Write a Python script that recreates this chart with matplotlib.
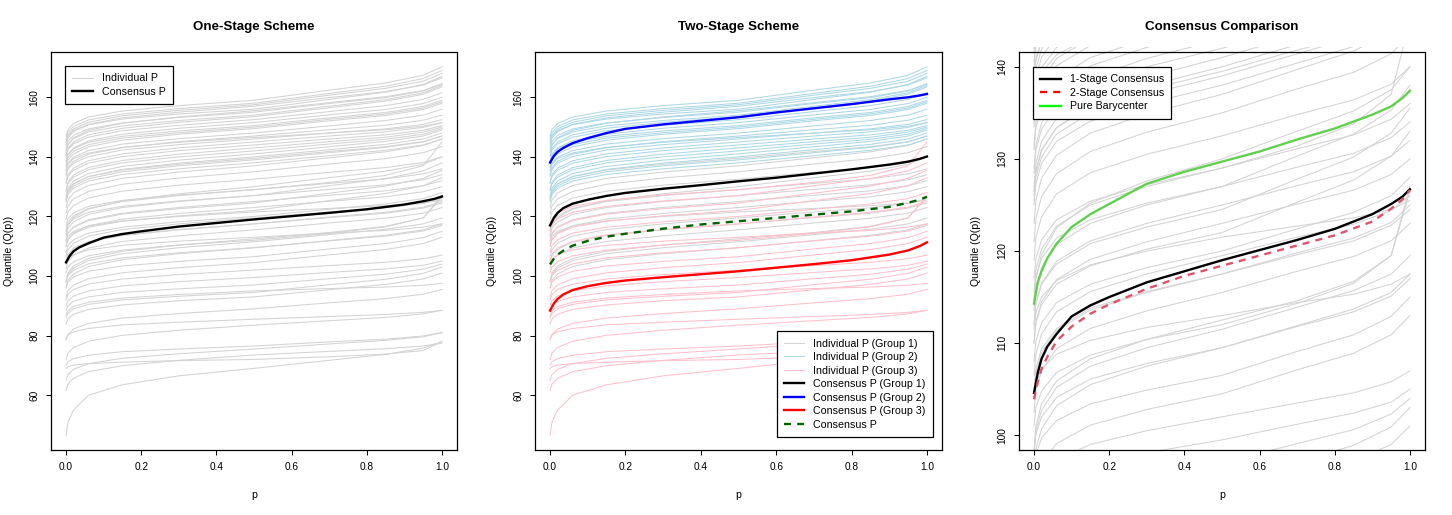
import numpy as np
import matplotlib
matplotlib.use('Agg')
import matplotlib.pyplot as plt
from matplotlib.lines import Line2D
from matplotlib.patches import Rectangle

plt.rcParams['font.family'] = ['Liberation Sans', 'DejaVu Sans']

#---------------------------------datos---------------------------------
# puntos p donde se leyeron las curvas individuales
p_ind = [0.0, 0.005, 0.02, 0.06, 0.15, 0.3, 0.5, 0.7, 0.85, 0.95, 1.0]

# grupo 1 (gris)
grupo1 = [
    [123.0, 125.5, 127.9, 130.4, 132.8, 134.9, 137.0, 139.7, 141.7, 143.8, 146.0],
    [121.0, 123.5, 125.9, 128.4, 130.8, 132.9, 135.0, 137.6, 139.4, 141.4, 143.5],
    [119.0, 121.5, 123.7, 126.2, 128.5, 130.5, 132.5, 134.8, 136.4, 138.1, 140.0],
    [114.0, 117.0, 119.6, 122.5, 125.2, 127.6, 130.0, 133.0, 135.2, 137.5, 140.0],
    [115.5, 118.0, 120.2, 122.7, 125.0, 127.0, 129.0, 131.1, 132.6, 134.3, 136.0],
    [113.5, 116.0, 118.2, 120.7, 123.0, 125.0, 127.0, 129.1, 130.6, 132.3, 134.0],
    [112.0, 114.3, 116.5, 118.9, 121.1, 123.0, 125.0, 127.1, 128.6, 130.3, 132.0],
    [110.0, 112.3, 114.5, 116.9, 119.1, 121.0, 123.0, 125.1, 126.6, 128.3, 130.0],
    [111.5, 113.3, 115.0, 116.8, 118.5, 120.0, 121.5, 122.7, 123.6, 124.5, 125.5],
    [106.5, 108.8, 111.0, 113.4, 115.6, 117.5, 119.5, 121.5, 122.9, 124.4, 126.0],
    [104.5, 106.8, 109.0, 111.4, 113.6, 115.5, 117.5, 119.6, 121.1, 122.8, 124.5],
    [102.5, 104.8, 107.0, 109.4, 111.6, 113.5, 115.5, 117.8, 119.4, 121.1, 123.0],
    [98.5, 101.0, 103.4, 105.9, 108.3, 110.4, 112.5, 114.6, 116.7, 119.5, 126.5],
    [98.0, 100.5, 102.7, 105.2, 107.5, 109.5, 111.5, 113.9, 115.7, 117.5, 119.5],
    [96.0, 98.5, 100.7, 103.2, 105.5, 107.5, 109.5, 111.9, 113.7, 115.5, 117.5],
    [126.5, 128.8, 131.0, 133.4, 135.6, 137.5, 139.5, 141.8, 143.4, 145.1, 147.0],
]

# grupo 2 (celeste)
grupo2 = [
    [147.0, 149.2, 151.2, 153.4, 155.4, 157.2, 159.0, 162.4, 164.8, 167.4, 170.2],
    [146.0, 148.2, 150.2, 152.4, 154.4, 156.2, 158.0, 161.3, 163.7, 166.3, 169.0],
    [145.0, 147.3, 149.4, 151.6, 153.8, 155.6, 157.5, 160.7, 163.0, 165.4, 168.0],
    [145.0, 147.0, 148.9, 150.8, 152.7, 154.4, 156.0, 159.3, 161.7, 164.3, 167.0],
    [143.0, 145.2, 147.2, 149.4, 151.4, 153.2, 155.0, 157.9, 159.9, 162.1, 164.5],
    [142.0, 144.2, 146.2, 148.4, 150.4, 152.2, 154.0, 157.0, 159.2, 161.5, 164.0],
    [140.5, 142.9, 145.0, 147.4, 149.6, 151.6, 153.5, 156.5, 158.7, 161.0, 163.5],
    [140.0, 142.3, 144.4, 146.6, 148.8, 150.6, 152.5, 155.2, 157.2, 159.3, 161.5],
    [138.5, 140.9, 143.0, 145.4, 147.6, 149.6, 151.5, 154.1, 155.9, 157.9, 160.0],
    [138.5, 140.7, 142.7, 144.9, 146.9, 148.7, 150.5, 153.1, 154.9, 156.9, 159.0],
    [136.5, 138.9, 141.0, 143.4, 145.6, 147.6, 149.5, 152.1, 153.9, 155.9, 158.0],
    [135.5, 137.8, 139.9, 142.1, 144.3, 146.1, 148.0, 150.4, 152.2, 154.0, 156.0],
    [134.0, 136.4, 138.5, 140.9, 143.1, 145.1, 147.0, 149.1, 150.6, 152.3, 154.0],
    [133.5, 135.8, 137.9, 140.1, 142.3, 144.1, 146.0, 148.0, 149.4, 150.9, 152.5],
    [131.5, 134.0, 136.2, 138.7, 141.0, 143.0, 145.0, 147.0, 148.4, 149.9, 151.5],
    [131.0, 133.4, 135.5, 137.9, 140.1, 142.1, 144.0, 146.0, 147.4, 148.9, 150.5],
    [129.0, 131.5, 133.9, 136.4, 138.8, 140.9, 143.0, 145.1, 146.6, 148.3, 150.0],
    [128.5, 131.0, 133.2, 135.7, 138.0, 140.0, 142.0, 144.3, 145.9, 147.6, 149.5],
    [127.0, 129.5, 131.9, 134.4, 136.8, 138.9, 141.0, 143.4, 145.2, 147.0, 149.0],
    [126.0, 128.5, 130.9, 133.4, 135.8, 137.9, 140.0, 142.4, 144.2, 146.0, 148.0],
    [125.5, 128.0, 130.2, 132.7, 135.0, 137.0, 139.0, 141.4, 143.2, 145.0, 147.0],
    [125.0, 127.3, 129.5, 131.9, 134.1, 136.0, 138.0, 140.4, 142.2, 144.0, 146.0],
    [135.5, 137.5, 139.4, 141.3, 143.2, 144.9, 146.5, 148.0, 149.1, 150.3, 151.5],
    [144.0, 146.3, 148.5, 150.9, 153.1, 155.0, 157.0, 159.9, 161.9, 164.1, 166.5],
    [141.5, 144.0, 146.4, 148.9, 151.3, 153.4, 155.5, 158.2, 160.2, 162.3, 164.5],
    [137.5, 139.8, 141.9, 144.1, 146.3, 148.1, 150.0, 152.6, 154.4, 156.4, 158.5],
]

# grupo 3 (rosa)
grupo3 = [
    [117.0, 119.2, 121.2, 123.4, 125.4, 127.2, 129.0, 131.4, 133.8, 137.0, 145.0],
    [115.0, 117.2, 119.2, 121.4, 123.4, 125.2, 127.0, 130.3, 132.7, 135.3, 138.0],
    [112.0, 114.3, 116.4, 118.6, 120.8, 122.6, 124.5, 127.8, 130.2, 132.8, 135.5],
    [110.0, 112.2, 114.2, 116.4, 118.4, 120.2, 122.0, 125.3, 127.7, 130.3, 133.0],
    [108.0, 110.2, 112.2, 114.4, 116.4, 118.2, 120.0, 122.4, 124.2, 126.0, 128.0],
    [105.0, 107.3, 109.4, 111.6, 113.8, 115.6, 117.5, 119.8, 121.4, 123.1, 125.0],
    [104.0, 105.6, 107.2, 108.8, 110.3, 111.7, 113.0, 114.4, 115.3, 116.4, 117.5],
    [101.0, 103.0, 104.8, 106.8, 108.7, 110.4, 112.0, 114.3, 116.5, 119.5, 127.0],
    [98.0, 100.1, 102.0, 104.1, 106.1, 107.8, 109.5, 111.8, 113.4, 115.1, 117.0],
    [96.0, 97.9, 99.7, 101.6, 103.4, 104.9, 106.5, 109.1, 110.9, 112.9, 115.0],
    [93.0, 95.1, 97.0, 99.1, 101.1, 102.8, 104.5, 107.1, 108.9, 110.9, 113.0],
    [92.0, 93.8, 95.5, 97.3, 99.0, 100.5, 102.0, 103.5, 104.6, 105.8, 107.0],
    [90.0, 91.7, 93.3, 95.0, 96.7, 98.1, 99.5, 101.2, 102.4, 103.6, 105.0],
    [88.5, 90.0, 91.5, 93.0, 94.5, 95.7, 97.0, 99.1, 100.6, 102.3, 104.0],
    [87.0, 88.4, 89.8, 91.2, 92.6, 93.8, 95.0, 95.8, 96.3, 96.9, 97.5],
    [86.0, 87.5, 89.0, 90.5, 92.0, 93.2, 94.5, 97.1, 98.9, 100.9, 103.0],
    [84.0, 85.6, 87.2, 88.8, 90.3, 91.7, 93.0, 95.4, 97.2, 99.0, 101.0],
    [78.5, 80.4, 82.2, 84.1, 85.9, 87.4, 89.0, 91.0, 92.4, 93.9, 95.5],
    [79.0, 80.2, 81.3, 82.4, 83.6, 84.5, 85.5, 86.4, 87.1, 87.8, 88.5],
    [72.0, 74.1, 76.0, 78.1, 80.1, 81.8, 83.5, 85.0, 86.1, 87.3, 88.5],
    [70.0, 71.2, 72.3, 73.4, 74.6, 75.5, 76.5, 77.9, 78.8, 79.9, 81.0],
    [69.0, 69.5, 70.1, 70.6, 71.1, 71.6, 72.0, 72.9, 73.8, 75.0, 78.0],
    [61.5, 63.7, 65.7, 67.9, 69.9, 71.7, 73.5, 74.7, 75.6, 76.5, 77.5],
    [46.5, 51.0, 55.0, 60.0, 63.5, 66.5, 69.0, 71.7, 73.7, 75.8, 78.0],
    [65.0, 66.9, 68.7, 70.6, 72.4, 73.9, 75.5, 77.2, 78.4, 79.6, 81.0],
]

# puntos p de las curvas de consenso
p_cons = [0.0, 0.01, 0.02, 0.035, 0.06, 0.1, 0.15, 0.2, 0.3, 0.4, 0.5,
          0.6, 0.7, 0.8, 0.9, 0.95, 0.98, 1.0]

cons_1etapa = [104.6, 106.8, 108.3, 109.6, 111.0, 112.9, 114.1, 115.0, 116.6, 117.8, 119.0,
               120.1, 121.2, 122.4, 124.0, 125.1, 125.9, 126.7]
cons_2etapa = [103.9, 105.8, 107.2, 108.5, 110.2, 111.8, 113.2, 114.2, 115.9, 117.3, 118.4,
               119.5, 120.6, 121.7, 123.2, 124.6, 125.6, 126.6]
baricentro = [114.3, 116.6, 117.8, 119.2, 120.8, 122.6, 124.0, 125.1, 127.3, 128.6, 129.7,
              130.8, 132.1, 133.3, 134.8, 135.7, 136.6, 137.4]
cons_g1 = [117.0, 119.5, 121.2, 122.8, 124.3, 125.6, 126.9, 127.9, 129.3, 130.5, 131.8,
           133.0, 134.4, 135.8, 137.4, 138.4, 139.3, 140.1]
cons_g2 = [138.1, 140.3, 141.7, 143.0, 144.6, 146.3, 148.0, 149.4, 150.9, 152.1, 153.3,
           154.9, 156.3, 157.7, 159.3, 160.0, 160.6, 161.1]
cons_g3 = [88.4, 90.8, 92.3, 93.8, 95.3, 96.6, 97.7, 98.5, 99.6, 100.6, 101.6,
           102.8, 104.0, 105.3, 107.2, 108.6, 110.0, 111.3]

#---------------------------------figura---------------------------------
W, H = 1452, 515
fig = plt.figure(figsize=(W / 100, H / 100), dpi=100)

def ejes(izq, der, arriba=52, abajo=450):
    return fig.add_axes([izq / W, 1 - abajo / H, (der - izq) / W, (abajo - arriba) / H])

ax1 = ejes(51, 457)
ax2 = ejes(535, 942)
ax3 = ejes(1019, 1425)

gris = '#D3D3D3'
celeste = '#ADD8E6'
rosa = '#FFC0CB'
lw_ind = 0.75
lw_cons = 1.7
guiones = (0, (3, 2.6))

# panel 1
for curva in grupo1 + grupo2 + grupo3:
    ax1.plot(p_ind, curva, color=gris, lw=lw_ind)
ax1.plot(p_cons, cons_1etapa, color='black', lw=lw_cons)

# panel 2
for curva in grupo1:
    ax2.plot(p_ind, curva, color=gris, lw=lw_ind)
for curva in grupo2:
    ax2.plot(p_ind, curva, color=celeste, lw=lw_ind)
for curva in grupo3:
    ax2.plot(p_ind, curva, color=rosa, lw=lw_ind)
ax2.plot(p_cons, cons_g1, color='black', lw=lw_cons)
ax2.plot(p_cons, cons_g2, color='blue', lw=lw_cons)
ax2.plot(p_cons, cons_g3, color='red', lw=lw_cons)
ax2.plot(p_cons, cons_2etapa, color='#006400', lw=lw_cons, linestyle=guiones)

# panel 3 (las curvas grises se salen un poco por arriba)
recorte = Rectangle((0, 0), 1, 1.012, transform=ax3.transAxes, facecolor='none')
for curva in grupo1 + grupo2 + grupo3:
    ln, = ax3.plot(p_ind, curva, color=gris, lw=lw_ind)
    ln.set_clip_path(recorte)
ax3.plot(p_cons, cons_1etapa, color='black', lw=lw_cons)
ax3.plot(p_cons, cons_2etapa, color='#DF536B', lw=lw_cons, linestyle=guiones)
ax3.plot(p_cons, baricentro, color='#61D04F', lw=lw_cons)

# ejes
for ax in (ax1, ax2):
    ax.set_ylim(41.6, 175.2)
    ax.set_yticks([60, 80, 100, 120, 140, 160])
ax3.set_ylim(98.4, 141.6)
ax3.set_yticks([100, 110, 120, 130, 140])

for ax in (ax1, ax2, ax3):
    ax.set_xlim(-0.04, 1.04)
    ax.set_xticks([0.0, 0.2, 0.4, 0.6, 0.8, 1.0])
    ax.set_xticklabels(['0.0', '0.2', '0.4', '0.6', '0.8', '1.0'])
    ax.tick_params(direction='out', length=3.6, width=0.75, labelsize=7.3, pad=5, colors='black')
    for lado in ax.spines.values():
        lado.set_linewidth(0.9)
    for lab in ax.get_yticklabels():
        lab.set_rotation(90)
        lab.set_va('center')

# titulos y etiquetas
titulos = ['One-Stage Scheme', 'Two-Stage Scheme', 'Consensus Comparison']
centros = [254, 738.5, 1222]
ylab_x = [9, 492, 976]
for t, cx, yx in zip(titulos, centros, ylab_x):
    fig.text(cx / W, 1 - 27 / H, t, ha='center', va='center', fontsize=9.6, fontweight='bold')
    fig.text(cx / W, 1 - 495 / H, 'p', ha='center', va='center', fontsize=7.6)
    fig.text(yx / W, 1 - 251 / H, 'Quantile (Q(p))', ha='center', va='center',
             fontsize=7.6, rotation=90)

# leyendas
opciones = dict(fontsize=7.7, handlelength=1.9, handletextpad=0.85, labelspacing=0.33,
                borderpad=0.68, fancybox=False, framealpha=1, edgecolor='black',
                bbox_transform=fig.transFigure, borderaxespad=0)

h1 = [Line2D([], [], color=gris, lw=lw_ind), Line2D([], [], color='black', lw=lw_cons)]
leg1 = ax1.legend(h1, ['Individual P', 'Consensus P'], loc='upper left',
                  bbox_to_anchor=(65 / W, 1 - 66 / H), **opciones)

h2 = [Line2D([], [], color=gris, lw=lw_ind), Line2D([], [], color=celeste, lw=lw_ind),
      Line2D([], [], color=rosa, lw=lw_ind), Line2D([], [], color='black', lw=lw_cons),
      Line2D([], [], color='blue', lw=lw_cons), Line2D([], [], color='red', lw=lw_cons),
      Line2D([], [], color='#006400', lw=lw_cons, linestyle=guiones)]
leg2 = ax2.legend(h2, ['Individual P (Group 1)', 'Individual P (Group 2)', 'Individual P (Group 3)',
                       'Consensus P (Group 1)', 'Consensus P (Group 2)', 'Consensus P (Group 3)',
                       'Consensus P'], loc='lower right',
                  bbox_to_anchor=(933 / W, 1 - 437 / H), **opciones)

h3 = [Line2D([], [], color='black', lw=lw_cons),
      Line2D([], [], color='red', lw=lw_cons, linestyle=guiones),
      Line2D([], [], color='#00FF00', lw=lw_cons)]
leg3 = ax3.legend(h3, ['1-Stage Consensus', '2-Stage Consensus', 'Pure Barycenter'], loc='upper left',
                  bbox_to_anchor=(1033 / W, 1 - 67 / H), **opciones)

for leg in (leg1, leg2, leg3):
    leg.get_frame().set_linewidth(0.9)

fig.savefig('out.png', dpi=100)
